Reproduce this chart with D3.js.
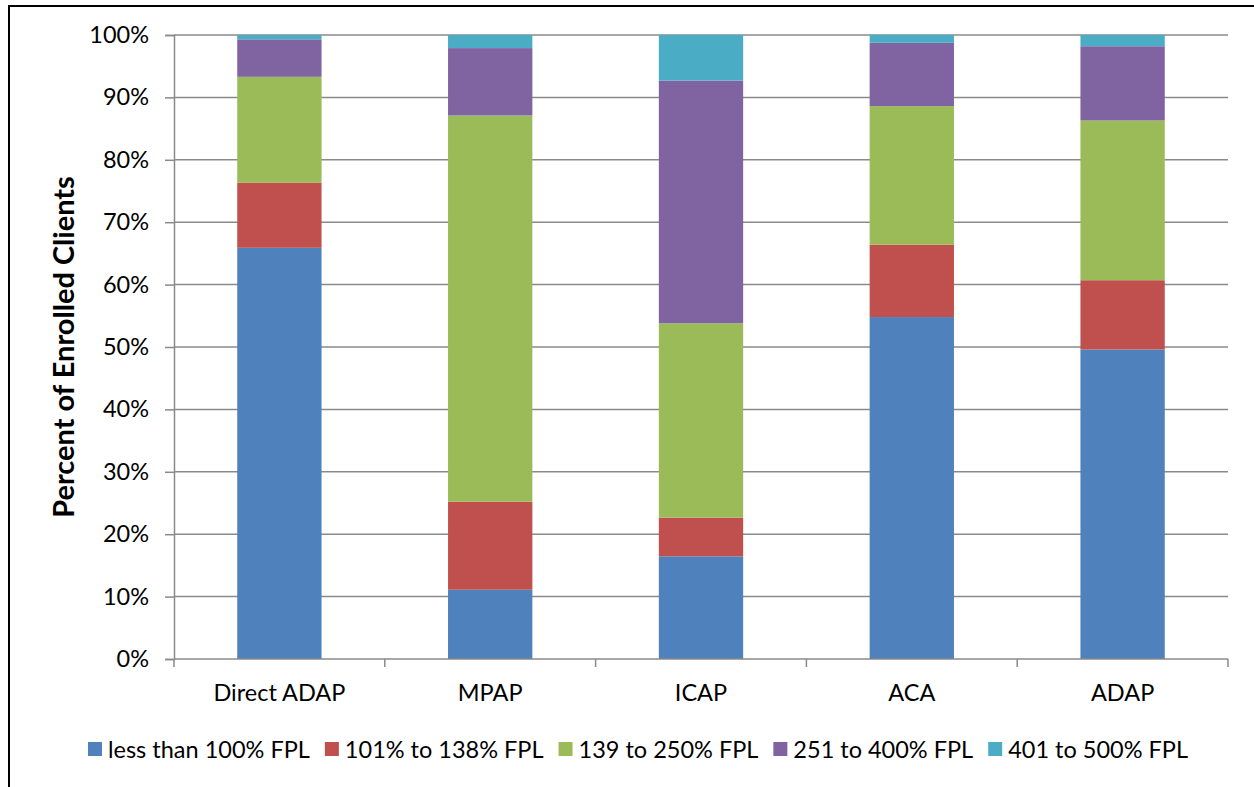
<!DOCTYPE html>
<html>
<head>
<meta charset="utf-8">
<script src="https://cdn.jsdelivr.net/npm/d3@7"></script>
<style>
  html, body { margin: 0; padding: 0; background: #fff; }
  svg { display: block; font-family: Lato, "Open Sans", sans-serif; }
</style>
</head>
<body>
<svg id="chart" width="1254" height="787"></svg>
<script>
// Programs and income bands (share of enrolled clients, %)
const programs = ["Direct ADAP", "MPAP", "ICAP", "ACA", "ADAP"];
const bands = ["less than 100% FPL", "101% to 138% FPL", "139 to 250% FPL", "251 to 400% FPL", "401 to 500% FPL"];
const lessThan100 = [65.9, 11.1, 16.45, 54.8, 49.6];
const from101to138 = [10.45, 14.1, 6.2, 11.6, 11.1];
const from139to250 = [16.95, 61.9, 31.15, 22.2, 25.6];
const from251to400 = [6.0, 10.8, 38.9, 10.15, 11.9];
const from401to500 = [0.7, 2.1, 7.3, 1.25, 1.8];
const yTicks = [0, 10, 20, 30, 40, 50, 60, 70, 80, 90, 100];
const colors = ["#4F81BD", "#C0504D", "#9BBB59", "#8064A2", "#4BACC6"];

const seriesValues = [lessThan100, from101to138, from139to250, from251to400, from401to500];
const rows = programs.map((p, i) => {
  const r = { program: p };
  bands.forEach((b, j) => { r[b] = seriesValues[j][i]; });
  return r;
});

const svg = d3.select("#chart");
const margin = { left: 174, right: 1228, top: 35, bottom: 659 };
const labelSize = 23.5;

// Outer frame (left and top edges visible)
svg.append("path")
  .attr("d", "M9,787 V6 H1254")
  .attr("fill", "none")
  .attr("stroke", "#000")
  .attr("stroke-width", 2);

const x = d3.scaleBand()
  .domain(programs)
  .range([margin.left, margin.right])
  .paddingInner(0.6)
  .paddingOuter(0.3);

const y = d3.scaleLinear().domain([0, 100]).range([margin.bottom, margin.top]);

// Horizontal gridlines
svg.append("g")
  .selectAll("line")
  .data(yTicks.filter(t => t > 0))
  .join("line")
  .attr("x1", margin.left)
  .attr("x2", margin.right)
  .attr("y1", d => y(d))
  .attr("y2", d => y(d))
  .attr("stroke", "#8a8a8a")
  .attr("stroke-width", 1.5);

// Stacked bars
const stack = d3.stack().keys(bands);
const layers = stack(rows);
svg.append("g")
  .selectAll("g")
  .data(layers)
  .join("g")
  .attr("fill", (d, i) => colors[i])
  .selectAll("rect")
  .data(d => d)
  .join("rect")
  .attr("x", d => x(d.data.program))
  .attr("width", x.bandwidth())
  .attr("y", d => y(d[1]))
  .attr("height", d => y(d[0]) - y(d[1]));

// Y axis
const yAxis = svg.append("g")
  .attr("transform", `translate(${margin.left},0)`)
  .call(d3.axisLeft(y).tickValues(yTicks).tickFormat(d => d + "%").tickSize(9).tickPadding(16));
yAxis.select(".domain").attr("stroke", "#8a8a8a").attr("stroke-width", 1.5);
yAxis.selectAll(".tick line").attr("stroke", "#8a8a8a").attr("stroke-width", 1.5);
yAxis.selectAll(".tick text")
  .attr("font-size", labelSize)
  .attr("font-family", "Lato, sans-serif")
  .attr("fill", "#000");

// X axis with ticks at category boundaries
const xAxisG = svg.append("g").attr("transform", `translate(0,${margin.bottom})`);
xAxisG.append("line")
  .attr("x1", margin.left).attr("x2", margin.right)
  .attr("stroke", "#8a8a8a").attr("stroke-width", 1.5);
const boundaries = d3.range(programs.length + 1).map(i => margin.left + i * (margin.right - margin.left) / programs.length);
xAxisG.selectAll("line.tk")
  .data(boundaries)
  .join("line")
  .attr("class", "tk")
  .attr("x1", d => d).attr("x2", d => d)
  .attr("y1", 0).attr("y2", 8)
  .attr("stroke", "#8a8a8a").attr("stroke-width", 1.5);
xAxisG.selectAll("text")
  .data(programs)
  .join("text")
  .attr("x", d => x(d) + x.bandwidth() / 2)
  .attr("y", 42)
  .attr("text-anchor", "middle")
  .attr("font-size", labelSize)
  .attr("fill", "#000")
  .text(d => d);

// Y axis title
svg.append("text")
  .attr("transform", `translate(74,${(margin.top + margin.bottom) / 2}) rotate(-90)`)
  .attr("text-anchor", "middle")
  .attr("font-size", 29)
  .attr("font-weight", "bold")
  .attr("fill", "#000")
  .text("Percent of Enrolled Clients");

// Legend
const legend = svg.append("g");
const items = legend.selectAll("g")
  .data(bands)
  .join("g");
items.append("rect")
  .attr("width", 14).attr("height", 14)
  .attr("y", 742)
  .attr("fill", (d, i) => colors[i]);
items.append("text")
  .attr("x", 20)
  .attr("y", 758)
  .attr("font-size", labelSize)
  .attr("fill", "#000")
  .text(d => d);
let cursor = 0;
const offsets = [];
const itemGap = 15;
items.each(function () {
  const w = d3.select(this).select("text").node().getComputedTextLength();
  offsets.push(cursor);
  cursor += 20 + w + itemGap;
});
const totalW = cursor - itemGap;
const startX = (87 + 1189) / 2 - totalW / 2;
items.attr("transform", (d, i) => `translate(${startX + offsets[i]},0)`);
</script>
</body>
</html>
